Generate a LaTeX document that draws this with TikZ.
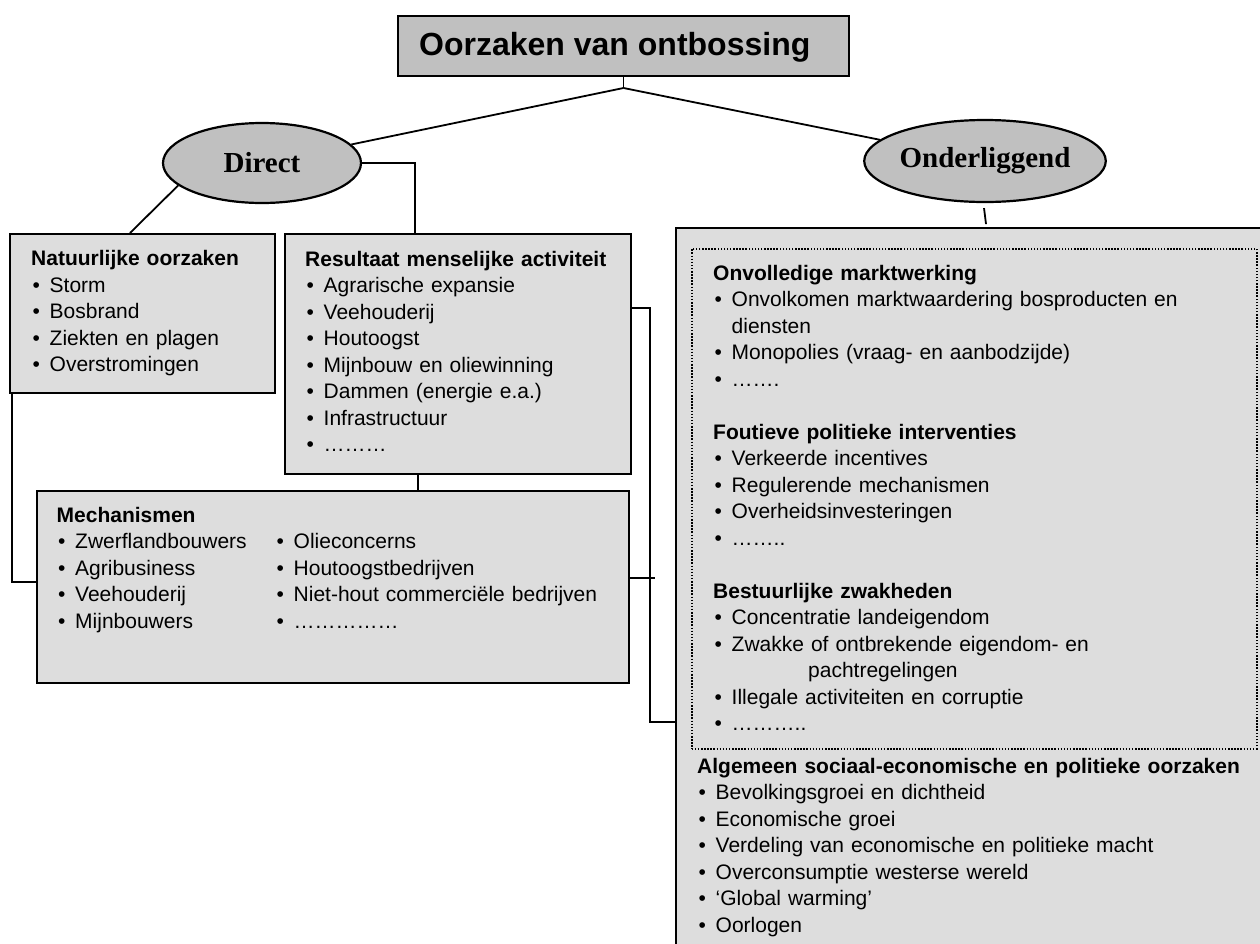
\documentclass[tikz,border=0pt]{standalone}
\usepackage{fontspec}
\setmainfont{Liberation Sans}
\newfontfamily\serifbf{Liberation Serif}
\usetikzlibrary{shapes.geometric,calc}
\definecolor{darkfill}{RGB}{192,192,192}
\definecolor{lightfill}{RGB}{221,221,221}
\newcommand\hdline[1]{\noindent\textbf{#1}\par}
\newcommand\bitem[1]{\noindent\makebox[18.5pt][l]{\hspace{1.5pt}\textbullet}#1\par}
\newcommand\contline[2][18.5pt]{\noindent\hspace*{#1}#2\par}
\newcommand\gapline{\noindent\strut\par}
\begin{document}
\begin{tikzpicture}[x=1pt,y=-1pt,
  box/.style={draw=black, line width=2pt, fill=lightfill, rectangle, inner sep=0pt, anchor=north west},
  titlebox/.style={draw=black, line width=2pt, fill=darkfill, rectangle, inner sep=0pt, anchor=north west},
  dotbox/.style={draw=black, line width=1.5pt, dash pattern=on 1.5pt off 1.6pt, rectangle, inner sep=0pt, anchor=north west},
  ell/.style={draw=black, line width=2.2pt, fill=darkfill, ellipse, inner sep=0pt, font=\serifbf\bfseries\fontsize{29}{34}\selectfont},
  txt/.style={inner sep=0pt, anchor=base west, text width=560pt, align=left, font=\fontsize{21}{26.5}\selectfont},
  conn/.style={draw=black, line width=1.8pt}]
\useasboundingbox (0,0) rectangle (1260,943);
\clip (0,0) rectangle (1260,943);

% title
\node[titlebox, minimum width=451pt, minimum height=60pt] (title) at (397,15) {};
\node[inner sep=0pt, anchor=base west, font=\bfseries\fontsize{32}{38}\selectfont] (titleT) at (419,55) {Oorzaken van ontbossing};

% ellipses
\node[ell, minimum width=198pt, minimum height=80pt] (direct) at (262,163) {Direct};
\node[ell, minimum width=232pt, minimum height=82pt] (ond) at (985,161) {Onderliggend};

% boxes
\node[box, minimum width=265pt, minimum height=159pt] (nat) at (9,233) {};
\node[box, minimum width=346pt, minimum height=240pt] (res) at (284,233) {};
\node[box, minimum width=592pt, minimum height=192pt] (mech) at (36,490) {};
\node[box, minimum width=620pt, minimum height=740pt] (rbox) at (675,227) {};
\node[dotbox, minimum width=565pt, minimum height=500pt] (dots) at (691,248) {};

% texts
\node[txt] (natT) at (31,265.5) {%
\hdline{Natuurlijke oorzaken}%
\bitem{Storm}%
\bitem{Bosbrand}%
\bitem{Ziekten en plagen}%
\bitem{Overstromingen}};

\node[txt] (resT) at (305,266) {%
\hdline{Resultaat menselijke activiteit}%
\bitem{Agrarische expansie}%
\bitem{Veehouderij}%
\bitem{Houtoogst}%
\bitem{Mijnbouw en oliewinning}%
\bitem{Dammen (energie e.a.)}%
\bitem{Infrastructuur}%
\bitem{………}};

\node[txt] (mechT) at (56.5,522) {%
\hdline{Mechanismen}%
\bitem{Zwerflandbouwers}%
\bitem{Agribusiness}%
\bitem{Veehouderij}%
\bitem{Mijnbouwers}};

\node[txt] (mechT2) at (275,548.5) {%
\bitem{Olieconcerns}%
\bitem{Houtoogstbedrijven}%
\bitem{Niet-hout commerciële bedrijven}%
\bitem{……………}};

\node[txt] (rT) at (713,280) {%
\hdline{Onvolledige marktwerking}%
\bitem{Onvolkomen marktwaardering bosproducten en}%
\contline{diensten}%
\bitem{Monopolies (vraag- en aanbodzijde)}%
\bitem{…….}%
\gapline
\hdline{Foutieve politieke interventies}%
\bitem{Verkeerde incentives}%
\bitem{Regulerende mechanismen}%
\bitem{Overheidsinvesteringen}%
\bitem{……..}%
\gapline
\hdline{Bestuurlijke zwakheden}%
\bitem{Concentratie landeigendom}%
\bitem{Zwakke of ontbrekende eigendom- en}%
\contline[95pt]{pachtregelingen}%
\bitem{Illegale activiteiten en corruptie}%
\bitem{………..}};

\node[txt] (aT) at (697,773) {%
\hdline{Algemeen sociaal-economische en politieke oorzaken}%
\bitem{Bevolkingsgroei en dichtheid}%
\bitem{Economische groei}%
\bitem{Verdeling van economische en politieke macht}%
\bitem{Overconsumptie westerse wereld}%
\bitem{‘Global warming’}%
\bitem{Oorlogen}};

% connectors
\coordinate (fork) at ($(title.south)+(0,11)$);
\draw[conn] (title.south) -- (fork);
\draw[conn] (fork) -- (direct);
\draw[conn] (fork) -- (ond);
\draw[conn] (direct.195) -- ($(nat.north west)+(121,0)$);
\draw[conn] (direct.east) -| ($(res.north west)+(131,0)$);
\coordinate (rb) at ($(res.south west)+(134,0)$);
\draw[conn] (rb) -- (rb |- mech.north);
\draw[conn] ($(nat.south west)+(3,0)$) |- ($(mech.north west)+(0,92)$);
\draw[conn] ($(res.north east)+(0,75)$) -- ++(18,0) |- ($(rbox.north west)+(0,495)$);
\coordinate (mt) at ($(mech.north east)+(25,88)$);
\draw[conn] ($(mech.north east)+(0,88)$) -- (mt);
\draw[conn] ($(ond.south)+(-1,5)$) -- ($(ond.south)+(1,21)$);
\end{tikzpicture}
\end{document}
